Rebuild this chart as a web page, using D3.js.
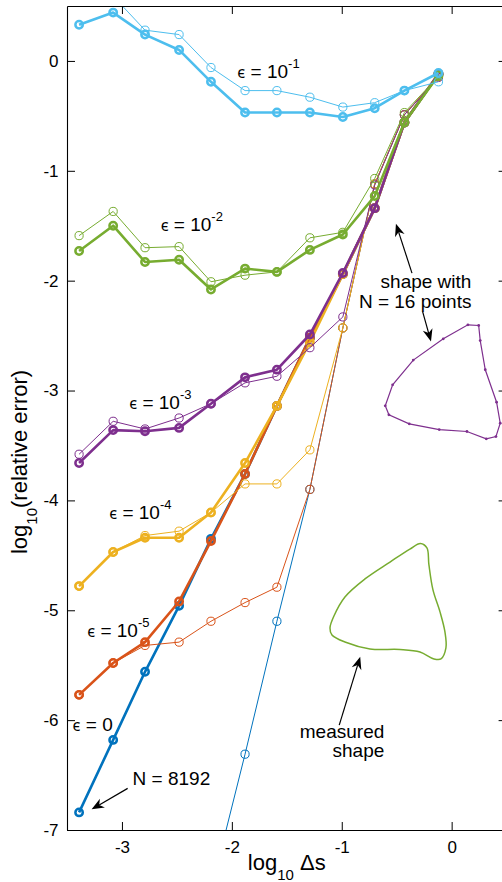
<!DOCTYPE html>
<html><head><meta charset="utf-8">
<script src="https://cdn.jsdelivr.net/npm/d3@7"></script>
<style>html,body{margin:0;padding:0;background:#fff;} svg{display:block;}</style>
</head><body><svg id="c" width="502" height="882"></svg>
<script>
// ---- data ----
const logDs = [-3.39, -3.08, -2.79, -2.48, -2.19, -1.88, -1.59, -1.29, -0.99, -0.70, -0.43, -0.12];
const xTicks = [-3, -2, -1, 0];
const yTicks = [-7, -6, -5, -4, -3, -2, -1, 0];
const epsExponents = ["0", "-5", "-4", "-3", "-2", "-1"];
const colors = ["#0072BD", "#D95319", "#EDB120", "#7E2F8E", "#77AC30", "#4DBEEE"];

const bold_eps0   = [-6.84, -6.18, -5.56, -4.96, -4.35, -3.76, -3.14, -2.52, -1.94, -1.34, -0.56, -0.12];
const thin_eps0   = [null, null, null, null, -7.55, -6.31, -5.10, -3.90, -2.43, -1.12, -0.49, -0.14];
const bold_eps1e5 = [-5.77, -5.48, -5.29, -4.92, -4.37, -3.76, -3.14, -2.52, -1.94, -1.34, -0.56, -0.12];
const thin_eps1e5 = [-5.77, -5.48, -5.32, -5.29, -5.10, -4.93, -4.79, -3.90, -2.43, -1.12, -0.49, -0.14];
const bold_eps1e4 = [-4.78, -4.47, -4.34, -4.34, -4.11, -3.66, -3.14, -2.56, -1.94, -1.34, -0.56, -0.12];
const thin_eps1e4 = [-4.78, -4.47, -4.32, -4.28, -4.11, -3.85, -3.85, -3.54, -2.43, -1.12, -0.49, -0.14];
const bold_eps1e3 = [-3.66, -3.36, -3.37, -3.34, -3.12, -2.88, -2.81, -2.49, -1.93, -1.34, -0.56, -0.12];
const thin_eps1e3 = [-3.58, -3.28, -3.35, -3.25, -3.12, -2.93, -2.87, -2.61, -2.33, -1.13, -0.49, -0.15];
const bold_eps1e2 = [-1.73, -1.50, -1.83, -1.81, -2.08, -1.89, -1.92, -1.72, -1.58, -1.23, -0.56, -0.13];
const thin_eps1e2 = [-1.59, -1.37, -1.70, -1.69, -2.01, -1.95, -1.92, -1.61, -1.56, -1.07, -0.47, -0.14];
const bold_eps1e1 = [0.33, 0.44, 0.24, 0.10, -0.19, -0.47, -0.47, -0.47, -0.51, -0.43, -0.27, -0.11];
const thin_eps1e1 = [null, 0.59, 0.28, 0.24, -0.06, -0.27, -0.27, -0.33, -0.42, -0.38, -0.27, -0.19];

// epsilon label anchor positions (data coords)
const epsLabelX = [-3.449, -3.316, -3.116, -2.934, -2.648, -1.95];
const epsLabelY = [-6.097, -5.240, -4.171, -3.169, -1.552, -0.152];

// 16-point shape (drawn in data coords)
const polyX = [0.148, 0.246, 0.260, 0.306, 0.409, 0.442, 0.403, 0.315, 0.139, -0.113, -0.386, -0.571, -0.604, -0.537, -0.349, -0.076];
const polyY = [-2.402, -2.408, -2.545, -2.811, -3.106, -3.297, -3.419, -3.440, -3.373, -3.355, -3.303, -3.221, -3.139, -2.948, -2.723, -2.529];
// measured shape (smooth outline)
const measX = [-0.284, -0.225, -0.207, -0.170, -0.106, -0.061, -0.052, -0.097, -0.161, -0.288, -0.470, -0.743, -0.971, -1.089, -1.107, -1.071, -0.971, -0.789, -0.561, -0.380];
const measY = [-4.392, -4.433, -4.585, -4.815, -5.015, -5.197, -5.343, -5.443, -5.443, -5.380, -5.357, -5.352, -5.289, -5.225, -5.161, -5.052, -4.879, -4.715, -4.561, -4.443];

// annotation arrows: tail -> tip (data coords)
const arrowTailX = [-0.361, -0.264, -1.023, -2.948];
const arrowTailY = [-1.931, -2.281, -6.045, -6.621];
const arrowTipX  = [-0.507, -0.188, -0.832, -3.276];
const arrowTipY  = [-1.482, -2.554, -5.423, -6.812];

// ---- chart ----
const svg = d3.select("#c");
const FONT = "'Liberation Sans', Arial, Helvetica, sans-serif";
const x = d3.scaleLinear().domain([-3.5, 0.5]).range([67, 506.6]);
const y = d3.scaleLinear().domain([-7, 0.5]).range([830, 6]);

svg.append("defs").append("clipPath").attr("id", "clip").append("rect")
  .attr("x", x.range()[0]).attr("y", y.range()[1])
  .attr("width", x.range()[1] - x.range()[0]).attr("height", y.range()[0] - y.range()[1]);

const series = [
  {color: colors[0], bold: bold_eps0, thin: thin_eps0},
  {color: colors[1], bold: bold_eps1e5, thin: thin_eps1e5},
  {color: colors[2], bold: bold_eps1e4, thin: thin_eps1e4},
  {color: colors[3], bold: bold_eps1e3, thin: thin_eps1e3},
  {color: colors[4], bold: bold_eps1e2, thin: thin_eps1e2},
  {color: colors[5], bold: bold_eps1e1, thin: thin_eps1e1}
];

const line = d3.line().defined(d => d[1] != null).x(d => x(d[0])).y(d => y(d[1]));
const plot = svg.append("g").attr("clip-path", "url(#clip)");

series.forEach(s => {
  const tp = logDs.map((v, i) => [v, s.thin[i]]);
  const bp = logDs.map((v, i) => [v, s.bold[i]]);
  plot.append("path").attr("d", line(tp)).attr("fill", "none")
    .attr("stroke", s.color).attr("stroke-width", 1);
  plot.append("g").selectAll("circle").data(tp.filter(d => d[1] != null)).join("circle")
    .attr("cx", d => x(d[0])).attr("cy", d => y(d[1])).attr("r", 4.1)
    .attr("fill", "none").attr("stroke", s.color).attr("stroke-width", 1);
  plot.append("path").attr("d", line(bp)).attr("fill", "none")
    .attr("stroke", s.color).attr("stroke-width", 2.6).attr("stroke-linejoin", "round");
  plot.append("g").selectAll("circle").data(bp).join("circle")
    .attr("cx", d => x(d[0])).attr("cy", d => y(d[1])).attr("r", 3.7)
    .attr("fill", "none").attr("stroke", s.color).attr("stroke-width", 2.5);
});

// shapes
const polyPts = polyX.map((v, i) => [v, polyY[i]]);
plot.append("path").attr("d", d3.line().x(d => x(d[0])).y(d => y(d[1])).curve(d3.curveLinearClosed)(polyPts))
  .attr("fill", "none").attr("stroke", colors[3]).attr("stroke-width", 1.2);
plot.append("g").selectAll("circle").data(polyPts).join("circle")
  .attr("cx", d => x(d[0])).attr("cy", d => y(d[1])).attr("r", 1.4).attr("fill", colors[3]);

const measPts = measX.map((v, i) => [v, measY[i]]);
plot.append("path").attr("d", d3.line().x(d => x(d[0])).y(d => y(d[1])).curve(d3.curveCatmullRomClosed.alpha(0.5))(measPts))
  .attr("fill", "none").attr("stroke", colors[4]).attr("stroke-width", 1.5);

// axes (inward ticks, box)
function styleAxis(g) {
  g.selectAll("path.domain").attr("stroke", "#000").attr("stroke-width", 1.1);
  g.selectAll(".tick line").attr("stroke", "#000").attr("stroke-width", 1);
  g.selectAll(".tick text").attr("fill", "#000").style("font-family", FONT).style("font-size", "17px");
}
svg.append("g").attr("transform", `translate(0,${y.range()[0]})`)
  .call(d3.axisBottom(x).tickValues(xTicks).tickSize(-8).tickSizeOuter(0).tickPadding(11).tickFormat(d3.format("d")))
  .call(styleAxis);
svg.append("g").attr("transform", `translate(0,${y.range()[1]})`)
  .call(d3.axisTop(x).tickValues(xTicks).tickSize(-8).tickSizeOuter(0).tickFormat(""))
  .call(styleAxis);
svg.append("g").attr("transform", `translate(${x.range()[0]},0)`)
  .call(d3.axisLeft(y).tickValues(yTicks).tickSize(-8).tickSizeOuter(0).tickPadding(8.5).tickFormat(d3.format("d")))
  .call(styleAxis);
svg.append("g").attr("transform", `translate(${x.range()[1]},0)`)
  .call(d3.axisRight(y).tickValues(yTicks).tickSize(-8).tickSizeOuter(0).tickFormat(""))
  .call(styleAxis);
svg.selectAll(".tick text").text(function() { return this.textContent.replace("\u2212", "-"); });

// axis labels
const xl = svg.append("text").attr("x", (x.range()[0] + x.range()[1]) / 2).attr("y", 870)
  .attr("text-anchor", "middle").style("font-family", FONT).style("font-size", "22px").attr("fill", "#000");
xl.append("tspan").text("log");
xl.append("tspan").attr("dy", 10).style("font-size", "15px").text("10");
xl.append("tspan").attr("dy", -10).text(" \u0394s");

const yl = svg.append("text").attr("transform", `translate(27,${y(-3.65)}) rotate(-90)`)
  .attr("text-anchor", "middle").style("font-family", FONT).style("font-size", "22px").attr("fill", "#000");
yl.append("tspan").text("log");
yl.append("tspan").attr("dy", 10).style("font-size", "15px").text("10");
yl.append("tspan").attr("dy", -10).text("(relative error)");

// epsilon labels
epsExponents.forEach((e, i) => {
  const t = svg.append("text").attr("x", x(epsLabelX[i])).attr("y", y(epsLabelY[i]))
    .style("font-family", FONT).style("font-size", "19px").attr("fill", "#000");
  t.append("tspan").style("font-family", "'Noto Sans', 'DejaVu Sans', sans-serif").style("font-size", "16px").text("\u03F5");
  if (e === "0") {
    t.append("tspan").text(" = 0");
  } else {
    t.append("tspan").text(" = 10");
    t.append("tspan").attr("dy", -10).style("font-size", "13px").text(e);
  }
});

// other annotations
function addText(str, xd, yd, anchor) {
  svg.append("text").attr("x", x(xd)).attr("y", y(yd)).attr("text-anchor", anchor)
    .style("font-family", FONT).style("font-size", "19px").attr("fill", "#000").text(str);
}
addText("N = 8192", -2.903, -6.591, "start");
addText("shape with", 0.180, -2.067, "end");
addText("N = 16 points", 0.180, -2.247, "end");
addText("measured", -0.613, -6.166, "end");
addText("shape", -0.613, -6.339, "end");

arrowTailX.forEach((_, i) => {
  const x0 = x(arrowTailX[i]), y0 = y(arrowTailY[i]);
  const x1 = x(arrowTipX[i]), y1 = y(arrowTipY[i]);
  const ang = Math.atan2(y1 - y0, x1 - x0);
  const L = 12.5, W = 5;
  const g = svg.append("g");
  const bx = x1 - Math.cos(ang) * L * 0.7, by = y1 - Math.sin(ang) * L * 0.7;
  g.append("line").attr("x1", x0).attr("y1", y0).attr("x2", bx).attr("y2", by)
    .attr("stroke", "#000").attr("stroke-width", 1.2);
  const c = Math.cos(ang), s = Math.sin(ang);
  const p = (u, v) => [x1 + u * c - v * s, y1 + u * s + v * c];
  const pts = [p(0, 0), p(-L, W), p(-L * 0.7, 0), p(-L, -W)];
  g.append("path").attr("d", "M" + pts.map(q => q.join(",")).join("L") + "Z").attr("fill", "#000");
});
</script></body></html>
